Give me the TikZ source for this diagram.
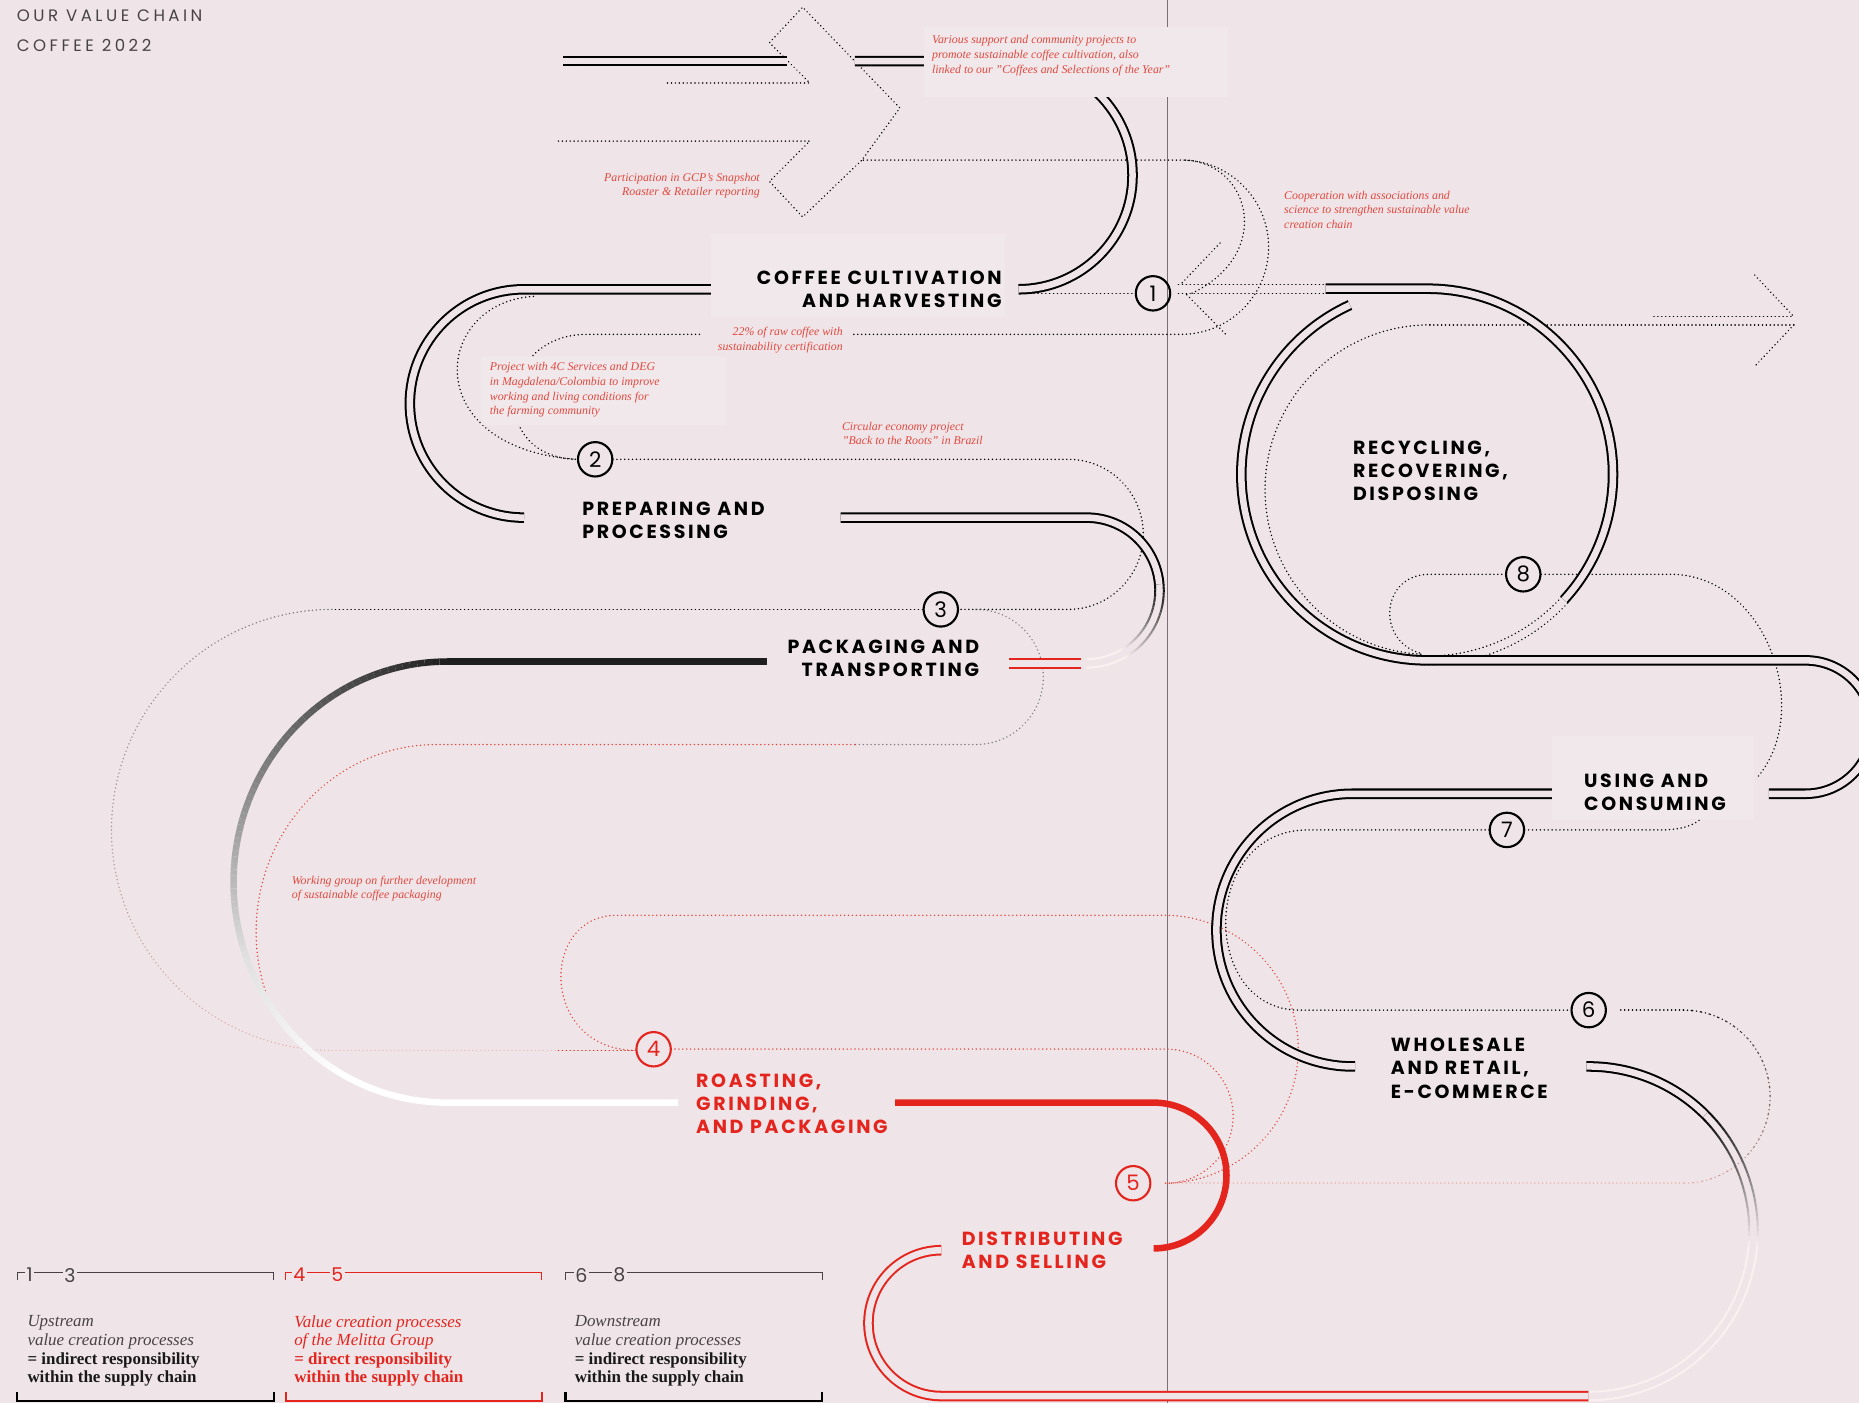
\documentclass[tikz,border=0pt]{standalone}
\usepackage{fontspec}
\setmainfont{Liberation Serif}
\newfontfamily\stagefont{Poppins}[LetterSpace=14]
\newfontfamily\titlefont{Poppins}[LetterSpace=21]
\newfontfamily\numfont{Poppins}
\newcommand\dq{\symbol{34}}
\definecolor{bg}{RGB}{239,229,232}
\definecolor{bgl}{RGB}{241,232,235}
\definecolor{mred}{RGB}{228,37,30}
\definecolor{nred}{RGB}{226,72,62}
\definecolor{pinkw}{RGB}{250,240,240}
\definecolor{lpink}{RGB}{238,185,182}
\definecolor{vgray}{RGB}{120,112,116}
\definecolor{tgray}{RGB}{72,66,70}
\colorlet{gA}{black!88!white}
\colorlet{gB}{black!50!white}
\colorlet{gC}{black!12!white}
\colorlet{dg}{black!55!white}
\tikzset{
  dbl/.style={line width=1.7pt, double=bg, double distance=5.5pt},
  dots/.style={line width=1.3pt, line cap=round, dash pattern=on 0.1pt off 3.2pt},
  stage/.style={font=\stagefont\bfseries\fontsize{16}{19.5}\selectfont, inner sep=0pt},
  note/.style={font=\itshape\fontsize{10}{12.4}\selectfont, text=nred, inner sep=0pt},
  num/.style={circle, draw, line width=1.8pt, minimum size=29pt, inner sep=0pt, font=\numfont\fontsize{18}{18}\selectfont},
  legtxt/.style={font=\fontsize{14.3}{15.7}\selectfont, inner sep=0pt, align=left, anchor=west},
  legnum/.style={font=\numfont\fontsize{16}{16}\selectfont, inner sep=1.2pt, fill=bg},
  titlestyle/.style={font=\titlefont\fontsize{14}{14}\selectfont, text=tgray, inner sep=0pt, anchor=west},
  box/.style={fill=bgl, draw=none}
}
\newcommand\garc[9]{%
  \foreach \k in {1,...,30}{%
    \pgfmathsetmacro\ga{(#5)+((#6)-(#5))*(\k-1)/30}%
    \pgfmathsetmacro\gb{(#5)+((#6)-(#5))*\k/30}%
    \pgfmathsetmacro\gp{100*(1-(\k-0.5)/30)}%
    \draw[#9, draw=#7!\gp!#8] ({#1+#3*cos(\ga)},{#2+#4*sin(\ga)}) arc[start angle=\ga, end angle=\gb, x radius=#3, y radius=#4];
  }%
}
\begin{document}
\begin{tikzpicture}[x=1pt,y=-1pt]
\useasboundingbox (0,0) rectangle (1568,1183);
\fill[bg] (0,0) rectangle (1568,1183);
% vertical divider
\draw[vgray, line width=1.1pt] (985,0) -- (985,1183);

% ---------- dotted paths ----------
\draw[dots] (563,70) -- (683,70) -- (649,36) -- (677,6) -- (759,91) -- (727,135) -- (996.5,135)
  arc[start angle=-90,end angle=90,radius=73.5] -- (720,282);
\draw[dots] (471,119) -- (683,119) -- (649,153) -- (677,183) -- (727,135);
\draw[dots] (1000,135) .. controls (1055,138) and (1075,215) .. (1004,248);
\draw[dots] (1029,205) -- (995.3,240.4);
\draw[dots] (1001,248.6) -- (1034.6,282.6);
\draw[dots] (958,247.4) -- (862,247.4);
\draw[dots] (994,240) -- (1118,240);
\draw[dots] (994,247.4) -- (1118,247.4);
% stage 2 dotted
\draw[dots] (590,282) -- (495,282) .. controls (420,282) and (410,385) .. (486,387.4);
\draw[dots] (450,250) .. controls (365,255) and (352,378) .. (486,387.4);
\draw[dots] (517,387.4) -- (901,387.4) arc[start angle=-90,end angle=90,radius=63.3] -- (808,514);
% stage 3 dotted
\draw[dots] (778,514) -- (282,514);
\garc{280}{700}{186}{186}{-90}{-270}{dg}{lpink}{dots}
\draw[dots, lpink] (280,886) -- (471,886);
\draw[dots, gray] (823,514) arc[start angle=-90,end angle=90,radius=57] -- (721,628);
% stage 4 dotted
\draw[dots, nred] (721,628) -- (368,628) arc[start angle=-90,end angle=-207,x radius=152,y radius=158];
\draw[dots, mred] (471,886) -- (536,886);
\draw[dots, nred] (536,886) .. controls (455,885) and (455,772) .. (520,772) -- (982,772)
  arc[start angle=-90,end angle=90,radius=113];
\draw[dots, nred] (566,884.8) -- (983.5,884.8) arc[start angle=-90,end angle=90,radius=56.6];
% stage 6 dotted
\draw[dots, lpink] (1420,998) -- (990,998);
\draw[dots] (1367,852) -- (1420,852);
\garc{1420}{925}{73}{73}{-90}{90}{black}{lpink}{dots}
% stage 7 dotted
\draw[dots] (1256,700) -- (1103,700) .. controls (1012,700) and (1012,852) .. (1096,852) -- (1325,852);
\draw[dots] (1286,700) -- (1401,700) .. controls (1420,700) and (1432,695) .. (1437,688);
% stage 8 dotted
\draw[dots] (1395,267) -- (1513,267);
\draw[dots] (1206,274) -- (1513,274);
\draw[dots] (1480,232) -- (1513,267);
\draw[dots] (1513,274) -- (1480,309);
\draw[dots] (1206,274) arc[start angle=-90,end angle=-268,radius=139];
\draw[dots] (1270,484.4) -- (1206,484.4) .. controls (1165,484) and (1160,540) .. (1198,551);
\draw[dots] (1300,484.4) -- (1409,484.4) .. controls (1490,484.4) and (1530,600) .. (1482,656);
\draw[dots] ({1204+153.4*cos(42.6)},{400+153.4*sin(42.6)}) arc[start angle=42.6,end angle=95,radius=153.4];
\draw[dots] ({1204+160.6*cos(42.6)},{400+160.6*sin(42.6)}) arc[start angle=42.6,end angle=92,radius=160.6];

% ---------- main route ----------
\draw[dbl] (475,51.5) -- (664,51.5);
\draw[dbl] (721,51.5) -- (859,51.5) arc[start angle=-90,end angle=90,radius=96.25];
\draw[dbl] (600,244) -- (442,244) arc[start angle=-90,end angle=-270,radius=96.3];
\draw[dbl] (709,436.6) -- (916.5,436.6) arc[start angle=-90,end angle=-5,radius=61.5];
\garc{916.5}{498}{57.9}{57.9}{-5}{60}{black}{pinkw}{line width=1.7pt}
\garc{916.5}{498}{65.1}{65.1}{-5}{60}{black}{pinkw}{line width=1.7pt}
\draw[pinkw, line width=1.7pt] ({916.5+57.9*cos(60)},{498+57.9*sin(60)}) arc[start angle=60,end angle=90,radius=57.9];
\draw[pinkw, line width=1.7pt] ({916.5+65.1*cos(60)},{498+65.1*sin(60)}) arc[start angle=60,end angle=90,radius=65.1];
\draw[dbl, draw=mred] (912,559.5) -- (851,559.5);
% thick packaging -> roasting
\draw[line width=5.5pt, gA] (647,558) -- (377,558);
\garc{377}{744}{180}{186}{-90}{-150}{gA}{gB}{line width=5.5pt}
\garc{377}{744}{180}{186}{-150}{-200}{gB}{gC}{line width=5.5pt}
\garc{377}{744}{180}{186}{-200}{-240}{gC}{white}{line width=5.5pt}
\draw[line width=5.5pt, white] ({377+180*cos(-240)},{744+186*sin(-240)}) arc[start angle=-240,end angle=-270,x radius=180,y radius=186] -- (572,930);
% roasting -> distributing
\draw[line width=5.5pt, mred] (755,930) -- (973,930) arc[start angle=-90,end angle=90,radius=61.5];
\draw[dbl, draw=mred] (794,1054.5) arc[start angle=-90,end angle=-270,radius=61.5] -- (1340,1177.5);
\garc{1340}{1038.5}{135.4}{135.4}{90}{5}{pinkw}{pinkw}{line width=1.7pt}
\garc{1340}{1038.5}{142.6}{142.6}{90}{5}{pinkw}{pinkw}{line width=1.7pt}
\garc{1340}{1038.5}{135.4}{135.4}{5}{-45}{pinkw}{black}{line width=1.7pt}
\garc{1340}{1038.5}{142.6}{142.6}{5}{-45}{pinkw}{black}{line width=1.7pt}
\draw[dbl] (1338,899.5) -- (1340,899.5) arc[start angle=-90,end angle=-45,radius=139];
\draw[dbl] (1143,899.5) -- (1141,899.5) arc[start angle=90,end angle=270,radius=115] -- (1309,669.5);
\draw[dbl] (1492,669.5) -- (1523,669.5) arc[start angle=90,end angle=-90,radius=56.25] -- (1204,557)
  arc[start angle=90,end angle=245.4,radius=157];
\draw[dbl] (1118,243.5) -- (1204,243.5) arc[start angle=-90,end angle=42.6,radius=156.5];

% ---------- light boxes ----------
\fill[box] (779,22.5) rectangle (1036,81.5);
\fill[box] (599.5,197) rectangle (848,267);
\fill[box] (406,301) rectangle (612,358.5);
\fill[box] (1309,621) rectangle (1479,691);

% ---------- title ----------
\node[titlestyle] (t1) at (14,13) {OUR VALUE CHAIN};
\node[titlestyle] (t2) at (14,38) {COFFEE 2022};

% ---------- stage labels ----------
\node[stage, anchor=east, align=right] (s1) at (845,244) {COFFEE CULTIVATION\\AND HARVESTING};
\node[stage, anchor=west, align=left] (s2) at (491,439) {PREPARING AND\\PROCESSING};
\node[stage, anchor=east, align=right] (s3) at (826,555.5) {PACKAGING AND\\TRANSPORTING};
\node[stage, anchor=west, align=left, text=mred] (s4) at (587,931) {ROASTING,\\GRINDING,\\AND PACKAGING};
\node[stage, anchor=west, align=left, text=mred] (s5) at (811,1054.5) {DISTRIBUTING\\AND SELLING};
\node[stage, anchor=west, align=left] (s6) at (1173,901) {WHOLESALE\\AND RETAIL,\\E-COMMERCE};
\node[stage, anchor=west, align=left] (s7) at (1336,668.5) {USING AND\\CONSUMING};
\node[stage, anchor=west, align=left] (s8) at (1141,397) {RECYCLING,\\RECOVERING,\\DISPOSING};

% ---------- numbers ----------
\node[num] (n1) at (972.5,247.4) {1};
\node[num] (n2) at (502,387.4) {2};
\node[num] (n3) at (793.5,514) {3};
\node[num, draw=mred, text=mred] (n4) at (551.3,885) {4};
\node[num, draw=mred, text=mred] (n5) at (955.8,998) {5};
\node[num] (n6) at (1340,852) {6};
\node[num] (n7) at (1271,700) {7};
\node[num] (n8) at (1284.8,484.4) {8};

% ---------- annotations ----------
\node[note, anchor=west, align=left] (a1) at (786,47) {Various support and community projects to\\promote sustainable coffee cultivation, also\\linked to our \dq Coffees and Selections of the Year\dq};
\node[note, anchor=east, align=right] (a2) at (641,156.5) {Participation in GCP's Snapshot\\Roaster \& Retailer reporting};
\node[note, anchor=west, align=left] (a3) at (1083,177) {Cooperation with associations and\\science to strengthen sustainable value\\creation chain};
\node[note, anchor=east, align=right] (a4) at (711,287) {22\% of raw coffee with\\sustainability certification};
\node[note, anchor=west, align=left] (a5) at (413,329) {Project with 4C Services and DEG\\in Magdalena/Colombia to improve\\working and living conditions for\\the farming community};
\node[note, anchor=west, align=left] (a6) at (710,365.5) {Circular economy project\\\dq Back to the Roots\dq{} in Brazil};
\node[note, anchor=west, align=left] (a7) at (246,749.5) {Working group on further development\\of sustainable coffee packaging};

% ---------- legend ----------
\draw[tgray, line width=1pt] (14.6,1080) -- (14.6,1073.4) -- (231,1073.4) -- (231,1080);
\node[legnum, text=tgray] (l1a) at (25,1075.5) {1};
\node[legnum, text=tgray] (l1b) at (59,1075.5) {3};
\draw[black, line width=1.8pt] (14.6,1174) -- (14.6,1181.5) -- (231,1181.5) -- (231,1174);
\node[legtxt] (lt1) at (23,1139.5) {\textcolor{tgray}{\itshape Upstream}\\\textcolor{tgray}{\itshape value creation processes}\\\textcolor{black!90}{\bfseries = indirect responsibility}\\\textcolor{black!90}{\bfseries within the supply chain}};

\draw[mred, line width=1pt] (241,1080) -- (241,1073.4) -- (457,1073.4) -- (457,1080);
\node[legnum, text=mred] (l2a) at (252.5,1075.5) {4};
\node[legnum, text=mred] (l2b) at (284.6,1075.5) {5};
\draw[mred, line width=1.8pt] (241,1174) -- (241,1181.5) -- (457,1181.5) -- (457,1174);
\node[legtxt, text=mred] (lt2) at (248,1139.5) {{\itshape Value creation processes}\\{\itshape of the Melitta Group}\\{\bfseries = direct responsibility}\\{\bfseries within the supply chain}};

\draw[tgray, line width=1pt] (477,1080) -- (477,1073.4) -- (693.5,1073.4) -- (693.5,1080);
\node[legnum, text=tgray] (l3a) at (490.3,1075.5) {6};
\node[legnum, text=tgray] (l3b) at (522.3,1075.5) {8};
\draw[black, line width=1.8pt] (477,1174) -- (477,1181.5) -- (693.5,1181.5) -- (693.5,1174);
\node[legtxt] (lt3) at (484.6,1139.5) {\textcolor{tgray}{\itshape Downstream}\\\textcolor{tgray}{\itshape value creation processes}\\\textcolor{black!90}{\bfseries = indirect responsibility}\\\textcolor{black!90}{\bfseries within the supply chain}};
\end{tikzpicture}
\end{document}
